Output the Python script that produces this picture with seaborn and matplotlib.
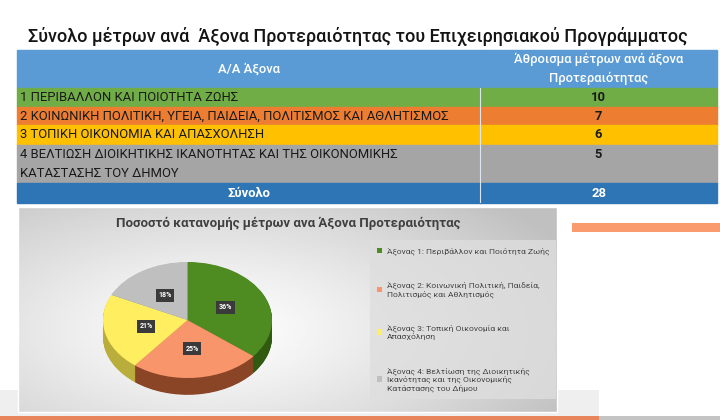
import numpy as np
import matplotlib
matplotlib.use('Agg')
import matplotlib.pyplot as plt
from matplotlib.table import Table
from matplotlib.patches import Rectangle
import seaborn as sns

# data
axis_labels = ['1 ΠΕΡΙΒΑΛΛΟΝ ΚΑΙ ΠΟΙΟΤΗΤΑ ΖΩΗΣ',
               '2 ΚΟΙΝΩΝΙΚΗ ΠΟΛΙΤΙΚΗ, ΥΓΕΙΑ, ΠΑΙΔΕΙΑ, ΠΟΛΙΤΙΣΜΟΣ ΚΑΙ ΑΘΛΗΤΙΣΜΟΣ',
               '3 ΤΟΠΙΚΗ ΟΙΚΟΝΟΜΙΑ ΚΑΙ ΑΠΑΣΧΟΛΗΣΗ',
               '4 ΒΕΛΤΙΩΣΗ ΔΙΟΙΚΗΤΙΚΗΣ ΙΚΑΝΟΤΗΤΑΣ ΚΑΙ ΤΗΣ ΟΙΚΟΝΟΜΙΚΗΣ\nΚΑΤΑΣΤΑΣΗΣ ΤΟΥ ΔΗΜΟΥ']
measures = [10, 7, 6, 5]
legend_labels = ['Άξονας 1: Περιβάλλον και Ποιότητα Ζωής',
                 'Άξονας 2: Κοινωνική Πολιτική, Παιδεία,\nΠολιτισμός και Αθλητισμός',
                 'Άξονας 3: Τοπική Οικονομία και\nΑπασχόληση',
                 'Άξονας 4: Βελτίωση της Διοικητικής\nΙκανότητας και της Οικονομικής\nΚατάστασης του Δήμου']
header = ['Α/Α Άξονα', 'Άθροισμα μέτρων ανά άξονα\nΠροτεραιότητας']
total_label = 'Σύνολο'

row_colors = ['#70AD47', '#ED7D31', '#FFC000', '#A5A5A5']
pie_colors = ['#4E8B20', '#F8956A', '#FFEF60', '#BFBFBF']
side_colors = ['#2F5A10', '#8A4526', '#B9AE3C', '#8A8A8A']

sns.set_theme(style='white')
plt.rcParams['font.family'] = ['Roboto', 'DejaVu Sans']

W, H = 720, 420
fig = plt.figure(figsize=(7.2, 4.2), dpi=100)
fig.patch.set_facecolor('white')


def fx(x):
    return x / W


def fy(y):
    return 1 - y / H


# background decorations in pixel units
bg = fig.add_axes([0, 0, 1, 1])
bg.set_xlim(0, W)
bg.set_ylim(H, 0)
bg.axis('off')
bg.add_patch(Rectangle((0, 390), 599, 26, color='#EFEFEF', lw=0))
bg.add_patch(Rectangle((0, 416), 599, 4, color='#E9855C', lw=0))
bg.add_patch(Rectangle((599, 416), 121, 4, color='#C4C4C4', lw=0))
bg.add_patch(Rectangle((572, 223), 148, 9, color='#F99B6E', lw=0))

# panel gradient
u, v = np.meshgrid(np.linspace(0, 1, 300), np.linspace(0, 1, 120))
d = np.sqrt(((u - 0.36) / 0.75) ** 2 + ((v - 0.6) / 0.9) ** 2)
shade = 1 - 0.25 * np.clip(d, 0, 1) ** 1.2
bg.imshow(shade, cmap='gray', vmin=0, vmax=1, extent=(18, 557, 412, 207),
          aspect='auto', origin='upper', zorder=1)
bg.add_patch(Rectangle((18, 207), 539, 205, fill=False, ec='white', lw=1, zorder=2))

# title
fig.text(fx(358), fy(37), 'Σύνολο μέτρων ανά  Άξονα Προτεραιότητας του Επιχειρησιακού Προγράμματος',
         ha='center', va='center', fontsize=13, fontweight='medium', color='#141414')

# table
row_h = [38, 19, 18, 20, 38, 20]
col_w = [463, 237]
tax = fig.add_axes([fx(17), fy(203), 700 / W, sum(row_h) / H])
tax.axis('off')
tbl = Table(tax, bbox=[0, 0, 1, 1])
tbl.auto_set_font_size(False)

rows = [(header[0], header[1], '#5B9BD5', 'white')]
for lab, val, c in zip(axis_labels, measures, row_colors):
    rows.append((lab, str(val), c, '#1A1A1A'))
rows.append((total_label, str(sum(measures)), '#2E75B6', 'white'))

for r, (lab, val, fc, tc) in enumerate(rows):
    h = row_h[r] / sum(row_h)
    left = 'left' if 0 < r < len(rows) - 1 else 'center'
    c0 = tbl.add_cell(r, 0, width=col_w[0] / 700, height=h, text=lab, loc=left,
                      facecolor=fc, edgecolor=fc)
    c1 = tbl.add_cell(r, 1, width=col_w[1] / 700, height=h,
                      text=val + ('\n ' if r == 4 else ''), loc='center',
                      facecolor=fc, edgecolor=fc)
    c0.PAD = 0.006
    weight0 = 'medium' if r == 0 else ('bold' if r == len(rows) - 1 else 'normal')
    c0.get_text().set(fontsize=9.4, color=tc, fontweight=weight0, linespacing=1.65)
    c1.get_text().set(fontsize=9.4, color=tc,
                      fontweight='medium' if r == 0 else 'bold', linespacing=1.55)
tax.add_table(tbl)
# light column divider below the header
tax.plot([col_w[0] / 700] * 2, [0, 1 - row_h[0] / sum(row_h)], color='#DCE6F2',
         lw=0.8, zorder=5)
tax.set_xlim(0, 1)
tax.set_ylim(0, 1)

# pie panel title
fig.text(fx(288), fy(223), 'Ποσοστό κατανομής μέτρων ανα Άξονα Προτεραιότητας',
         ha='center', va='center', fontsize=9.5, fontweight='bold', color='#404040')

# pie with depth
rx, ry, depth = 84.5, 58, 0.29
pcx, pcy = 187.5, 320
pax = fig.add_axes([fx(pcx - 1.02 * rx), fy(pcy + (1.02 + depth) * ry),
                    2.04 * rx / W, (2.04 + depth) * ry / H])
for k in np.linspace(depth, 0.01, 30):
    pax.pie(measures, colors=side_colors, startangle=90, counterclock=False,
            center=(0, -k), wedgeprops=dict(linewidth=0))
wedges, _, autotexts = pax.pie(
    measures, colors=pie_colors, startangle=90, counterclock=False,
    autopct='%1.0f%%', pctdistance=0.5,
    wedgeprops=dict(linewidth=0),
    textprops=dict(color='white', fontsize=5, fontweight='bold'))
for t in autotexts:
    t.set_bbox(dict(boxstyle='square,pad=0.35', fc='#3A3A3A', ec='none'))
pax.set_aspect('auto')
pax.set_xlim(-1.02, 1.02)
pax.set_ylim(-1.02 - depth, 1.02)
pax.axis('off')

leg = fig.legend(wedges, legend_labels, loc='upper left',
                 bbox_to_anchor=(fx(370), fy(240)), fontsize=6.1,
                 labelspacing=3.1, handlelength=0.6, handleheight=0.6,
                 handletextpad=0.5, borderpad=0.85, borderaxespad=0,
                 frameon=True, fancybox=False, labelcolor='#454545')
leg.get_frame().set_facecolor('#DEDEDE')
leg.get_frame().set_edgecolor('none')

fig.savefig('out.png', dpi=100)
